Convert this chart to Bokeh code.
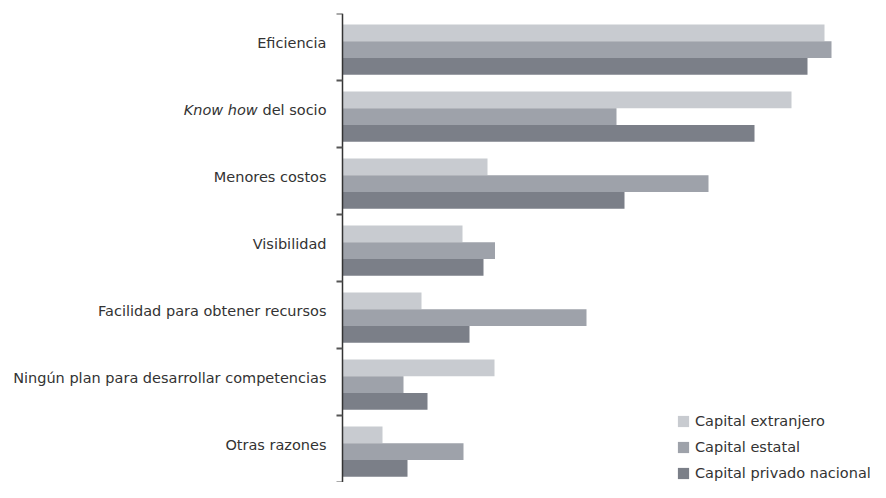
from bokeh.plotting import figure
from bokeh.models import (Range1d, FixedTicker, Legend, LegendItem, ColumnDataSource)
from bokeh.core.properties import value
from bokeh.embed import file_html
from bokeh.resources import INLINE

# ---- data ----
categories = ["Eficiencia", "Know how del socio", "Menores costos", "Visibilidad",
              "Facilidad para obtener recursos",
              "Ningún plan para desarrollar competencias", "Otras razones"]
italic_part = "Know how"
series_names = ["Capital extranjero", "Capital estatal", "Capital privado nacional"]
extranjero = [96.4, 89.8, 29.0, 24.0, 15.8, 30.4, 8.0]
estatal = [97.8, 54.8, 73.2, 30.5, 48.8, 12.2, 24.2]
privado = [93.0, 82.4, 56.4, 28.2, 25.4, 17.0, 13.0]
colors = ["#c8cbd0", "#9ea2aa", "#7b7f88"]

FONT = "DejaVu Sans"
FS = "14.5px"
TXT = "#333333"

n = len(categories)
centers = [n - 0.5 - i for i in range(n)]
bar_h = 0.25
shift = 0.04
offsets = [bar_h, 0.0, -bar_h]

W, H = 870, 482
AXIS_X = 342          # canvas position of the value axis
PX_PER_UNIT = 5.0

p = figure(width=W, height=H, output_backend="svg", toolbar_location=None,
           x_range=Range1d(-AXIS_X / PX_PER_UNIT, (W - AXIS_X) / PX_PER_UNIT),
           y_range=Range1d(0, n),
           x_axis_location=None, min_border_left=0, min_border_right=0,
           min_border_top=13, min_border_bottom=0)
p.outline_line_color = None
p.xgrid.visible = False
p.ygrid.visible = False
p.background_fill_color = "white"
p.border_fill_color = "white"

renderers = []
for vals, off, col in zip([extranjero, estatal, privado], offsets, colors):
    src = ColumnDataSource(dict(y=[c + off - shift for c in centers], right=vals))
    r = p.hbar(y="y", right="right", left=0, height=bar_h, source=src,
               fill_color=col, line_color=None)
    renderers.append(r)

# category axis: ticks at the category boundaries, drawn at value 0
yax = p.yaxis[0]
yax.fixed_location = 0
yax.ticker = FixedTicker(ticks=centers, minor_ticks=list(range(n + 1)))
yax.major_label_overrides = {c: "" for c in centers}
yax.major_label_standoff = 0
yax.major_tick_line_color = None
yax.major_tick_out = 0
yax.major_tick_in = 0
yax.minor_tick_out = 6
yax.minor_tick_in = 0
yax.minor_tick_line_color = "#555555"
yax.minor_tick_line_width = 2
yax.axis_line_color = "#333333"
yax.axis_line_width = 1.5

# category labels (the "Know how" part is italic)
plain_labels = []
for name in categories:
    plain_labels.append(name[len(italic_part):].strip() if name.startswith(italic_part) else name)
p.text(x=[0] * n, y=centers, text=plain_labels, x_offset=-16, y_offset=-4,
       text_align="right", text_baseline="middle", text_font=value(FONT),
       text_font_size=FS, text_color=TXT)
ital_y = [c for c, name in zip(centers, categories) if name.startswith(italic_part)]
p.text(x=[0] * len(ital_y), y=ital_y, text=[italic_part] * len(ital_y),
       x_offset=-84.8, y_offset=-4, text_align="right", text_baseline="middle",
       text_font=value(FONT), text_font_size=FS, text_font_style="italic",
       text_color=TXT)

legend = Legend(items=[LegendItem(label=nm, renderers=[r])
                       for nm, r in zip(series_names, renderers)],
                location=(676, -1), orientation="vertical")
legend.margin = 0
legend.padding = 0
legend.spacing = 6
legend.border_line_color = None
legend.background_fill_alpha = 0
legend.glyph_width = 14
legend.glyph_height = 14
legend.label_height = 20
legend.label_standoff = 5
legend.label_text_font = FONT
legend.label_text_font_size = FS
legend.label_text_color = TXT
p.add_layout(legend)

open("out.html", "w").write(file_html(p, INLINE))
